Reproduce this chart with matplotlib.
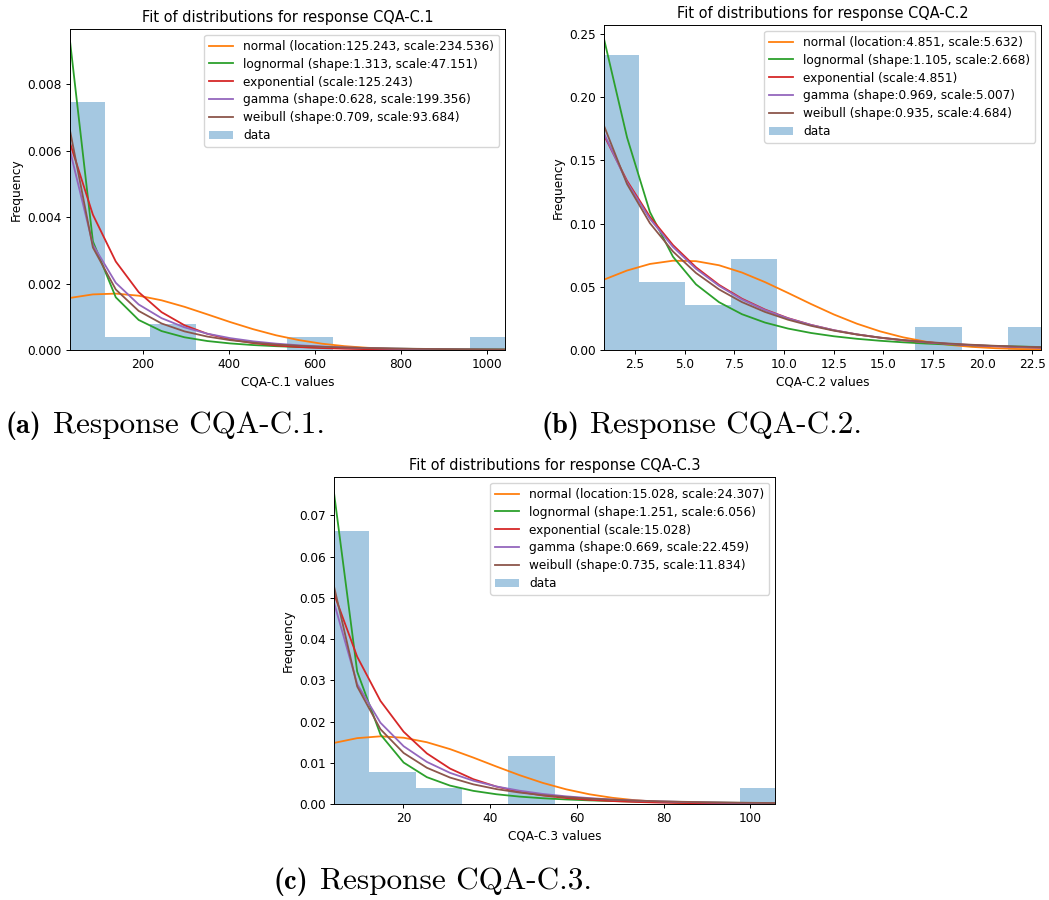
import numpy as np
import matplotlib
matplotlib.use("Agg")
import matplotlib.pyplot as plt

# ---------------- Panel (a): CQA-C.1 ----------------
a_edges = [6, 112, 218, 324, 430, 536, 642, 748, 854, 960, 1066]
a_hist = [0.00747, 0.00039, 0.00079, 0.0, 0.0, 0.00039, 0.0, 0.0, 0.0, 0.00039]
a_x = [31, 84.2, 137.4, 190.6, 243.8, 297.1, 350.3, 403.5, 456.7, 509.9,
       563.1, 616.3, 669.5, 722.7, 775.9, 829.2, 882.4, 935.6, 988.8, 1042]
a_normal = [0.001569, 0.001675, 0.001699, 0.001636, 0.001497, 0.001301, 0.001073, 0.000841,
            0.000627, 0.000443, 0.000298, 0.000190, 0.000115, 0.0000664, 0.0000363,
            0.0000188, 0.0000093, 0.0000044, 0.0000019, 0.0000008]
a_lognormal = [0.00931, 0.003273, 0.001587, 0.000905, 0.000570, 0.000383, 0.000270, 0.000198,
               0.000149, 0.000115, 0.0000906, 0.0000725, 0.0000589, 0.0000484, 0.0000403,
               0.0000338, 0.0000286, 0.0000244, 0.0000209, 0.0000181]
a_expon = [0.006234, 0.004076, 0.002665, 0.001743, 0.001140, 0.000745, 0.000487, 0.000319,
           0.000208, 0.000136, 0.0000891, 0.0000583, 0.0000381, 0.0000249, 0.0000163,
           0.0000107, 0.0000070, 0.0000046, 0.0000030, 0.0000019]
a_gamma = [0.006006, 0.003171, 0.002024, 0.001372, 0.000959, 0.000682, 0.000491, 0.000357,
           0.000261, 0.000192, 0.0001417, 0.0001049, 0.0000779, 0.0000579, 0.0000432,
           0.0000323, 0.0000241, 0.0000181, 0.0000136, 0.0000102]
a_weibull = [0.006615, 0.003089, 0.001823, 0.001177, 0.000799, 0.000561, 0.000404, 0.000296,
             0.0002205, 0.0001664, 0.0001269, 0.0000976, 0.0000757, 0.0000591, 0.0000465,
             0.0000368, 0.0000292, 0.0000233, 0.0000187, 0.0000151]
a_labels = ["normal (location:125.243, scale:234.536)",
            "lognormal (shape:1.313, scale:47.151)",
            "exponential (scale:125.243)",
            "gamma (shape:0.628, scale:199.356)",
            "weibull (shape:0.709, scale:93.684)"]

# ---------------- Panel (b): CQA-C.2 ----------------
b_edges = [0.37, 2.69, 5.01, 7.33, 9.65, 11.97, 14.29, 16.61, 18.93, 21.25, 23.57]
b_hist = [0.2335, 0.0539, 0.0359, 0.0718, 0.0, 0.0, 0.0, 0.018, 0.0, 0.018]
b_x = [0.94, 2.10, 3.25, 4.41, 5.57, 6.73, 7.88, 9.04, 10.20, 11.36,
       12.51, 13.67, 14.83, 15.99, 17.14, 18.30, 19.46, 20.62, 21.77, 22.93]
b_normal = [0.05566, 0.06285, 0.06804, 0.07061, 0.07025, 0.06701, 0.06127, 0.0537, 0.04513,
            0.03634, 0.02807, 0.02078, 0.01475, 0.01003, 0.00654, 0.00409, 0.00245,
            0.00141, 0.00078, 0.00041]
b_lognormal = [0.2460, 0.1681, 0.1091, 0.0738, 0.0519, 0.0378, 0.02832, 0.0217, 0.01695,
               0.01346, 0.01085, 0.00885, 0.0073, 0.00608, 0.0051, 0.00432, 0.00368,
               0.00316, 0.00273, 0.00237]
b_expon = [0.1698, 0.1338, 0.1054, 0.0830, 0.0654, 0.0515, 0.0406, 0.0320, 0.0252, 0.01984,
           0.01563, 0.01231, 0.00970, 0.00764, 0.00602, 0.00474, 0.00373, 0.00294,
           0.00232, 0.00183]
b_gamma = [0.1711, 0.1325, 0.1037, 0.0815, 0.0642, 0.0507, 0.0400, 0.0316, 0.0250, 0.01978,
           0.01565, 0.01239, 0.0098, 0.00776, 0.00615, 0.00487, 0.00386, 0.00306,
           0.00242, 0.00192]
b_weibull = [0.1773, 0.1312, 0.1003, 0.0779, 0.0609, 0.0479, 0.0379, 0.0301, 0.02395, 0.01911,
             0.01527, 0.01223, 0.00982, 0.00789, 0.00635, 0.00511, 0.00413, 0.00333,
             0.00269, 0.00218]
b_labels = ["normal (location:4.851, scale:5.632)",
            "lognormal (shape:1.105, scale:2.668)",
            "exponential (scale:4.851)",
            "gamma (shape:0.969, scale:5.007)",
            "weibull (shape:0.935, scale:4.684)"]

# ---------------- Panel (c): CQA-C.3 ----------------
c_edges = [1.47, 12.15, 22.83, 33.51, 44.19, 54.87, 65.55, 76.23, 86.91, 97.59, 108.27]
c_hist = [0.0663, 0.0078, 0.0039, 0.0, 0.0117, 0.0, 0.0, 0.0, 0.0, 0.0039]
c_x = [4.0, 9.35, 14.71, 20.06, 25.41, 30.76, 36.12, 41.47, 46.82, 52.17,
       57.53, 62.88, 68.23, 73.58, 78.94, 84.29, 89.64, 94.99, 100.35, 105.7]
c_normal = [0.01481, 0.01597, 0.01641, 0.01607, 0.01498, 0.01331, 0.01126, 0.00908, 0.00698,
            0.00511, 0.00356, 0.00236, 0.0015, 0.0009, 0.00052, 0.00028, 0.00015,
            0.000073, 0.000035, 0.000016]
c_lognormal = [0.07546, 0.0321, 0.01687, 0.01005, 0.00651, 0.00446, 0.00319, 0.00236, 0.00179,
               0.00139, 0.0011, 0.00088, 0.00072, 0.00059, 0.00049, 0.00041, 0.00035,
               0.0003, 0.000256, 0.000221]
c_expon = [0.05099, 0.03571, 0.02501, 0.01752, 0.01227, 0.00859, 0.00602, 0.00421, 0.00295,
           0.00207, 0.00145, 0.00101, 0.00071, 0.000497, 0.000348, 0.000244, 0.000171,
           0.000120, 0.000084, 0.000059]
c_gamma = [0.04885, 0.02906, 0.01971, 0.01401, 0.01021, 0.00755, 0.00565, 0.00425, 0.00322,
           0.00244, 0.00186, 0.00143, 0.00109, 0.00084, 0.00065, 0.0005, 0.00039,
           0.0003, 0.00023, 0.00018]
c_weibull = [0.05277, 0.0285, 0.01814, 0.01237, 0.00879, 0.00641, 0.00477, 0.00361, 0.00277,
             0.00214, 0.00167, 0.00131, 0.00104, 0.00083, 0.000665, 0.000535, 0.000433,
             0.000352, 0.000287, 0.000234]
c_labels = ["normal (location:15.028, scale:24.307)",
            "lognormal (shape:1.251, scale:6.056)",
            "exponential (scale:15.028)",
            "gamma (shape:0.669, scale:22.459)",
            "weibull (shape:0.735, scale:11.834)"]

titles = ["Fit of distributions for response CQA-C.1",
          "Fit of distributions for response CQA-C.2",
          "Fit of distributions for response CQA-C.3"]
xlabels = ["CQA-C.1 values", "CQA-C.2 values", "CQA-C.3 values"]
caption_tags = ["(a)", "(b)", "(c)"]
caption_texts = ["Response CQA-C.1.", "Response CQA-C.2.", "Response CQA-C.3."]

line_colors = ["#ff7f0e", "#2ca02c", "#d62728", "#9467bd", "#8c564b"]

W, H = 1049, 900
fig = plt.figure(figsize=(W / 100, H / 100), dpi=100)


def px_axes(x0, y0, x1, y1):
    return fig.add_axes([x0 / W, 1 - y1 / H, (x1 - x0) / W, (y1 - y0) / H])


panels = [
    (px_axes(70, 29, 505, 350), a_edges, a_hist, a_x,
     [a_normal, a_lognormal, a_expon, a_gamma, a_weibull], a_labels, (31, 1042), 0.00967),
    (px_axes(604, 25, 1041, 350), b_edges, b_hist, b_x,
     [b_normal, b_lognormal, b_expon, b_gamma, b_weibull], b_labels, (0.94, 22.93), 0.257),
    (px_axes(334, 477, 775, 804), c_edges, c_hist, c_x,
     [c_normal, c_lognormal, c_expon, c_gamma, c_weibull], c_labels, (4.0, 105.7), 0.0793),
]

FS = 8.7
for i, (ax, edges, hist, xs, curves, labels, xlim, ytop) in enumerate(panels):
    edges = np.asarray(edges)
    bars = ax.bar(edges[:-1], hist, width=np.diff(edges), align='edge',
                  color='#1f77b4', alpha=0.4, linewidth=0, label='data', zorder=1)
    handles = []
    for vals, lab, col in zip(curves, labels, line_colors):
        ln, = ax.plot(xs, vals, color=col, lw=1.3, label=lab, zorder=2)
        handles.append(ln)
    handles.append(bars)
    ax.set_xlim(*xlim)
    ax.set_ylim(0, ytop)
    ax.set_title(titles[i], fontsize=10.45, pad=5)
    ax.set_xlabel(xlabels[i], fontsize=FS, labelpad=3)
    ax.set_ylabel("Frequency", fontsize=FS, labelpad=3)
    ax.tick_params(labelsize=FS, length=3, width=0.7, pad=3)
    for s in ax.spines.values():
        s.set_linewidth(0.7)
    ax.legend(handles=handles, labels=labels + ['data'], loc='upper right',
              fontsize=FS, framealpha=0.8, edgecolor='0.8',
              handlelength=2.0, labelspacing=0.4, borderaxespad=0.5)

tag_pos = [(5, 433), (541, 433), (273, 889)]
text_pos = [(53, 433), (590, 433), (320, 889)]
for (tx, ty), (rx, ry), tag, txt in zip(tag_pos, text_pos, caption_tags, caption_texts):
    fig.text(tx / W, 1 - ty / H, tag, fontsize=20.5, family='cmb10',
             ha='left', va='baseline')
    fig.text(rx / W, 1 - ry / H, txt, fontsize=22.5, family='cmr10',
             ha='left', va='baseline')

fig.savefig("out.png", dpi=100)
